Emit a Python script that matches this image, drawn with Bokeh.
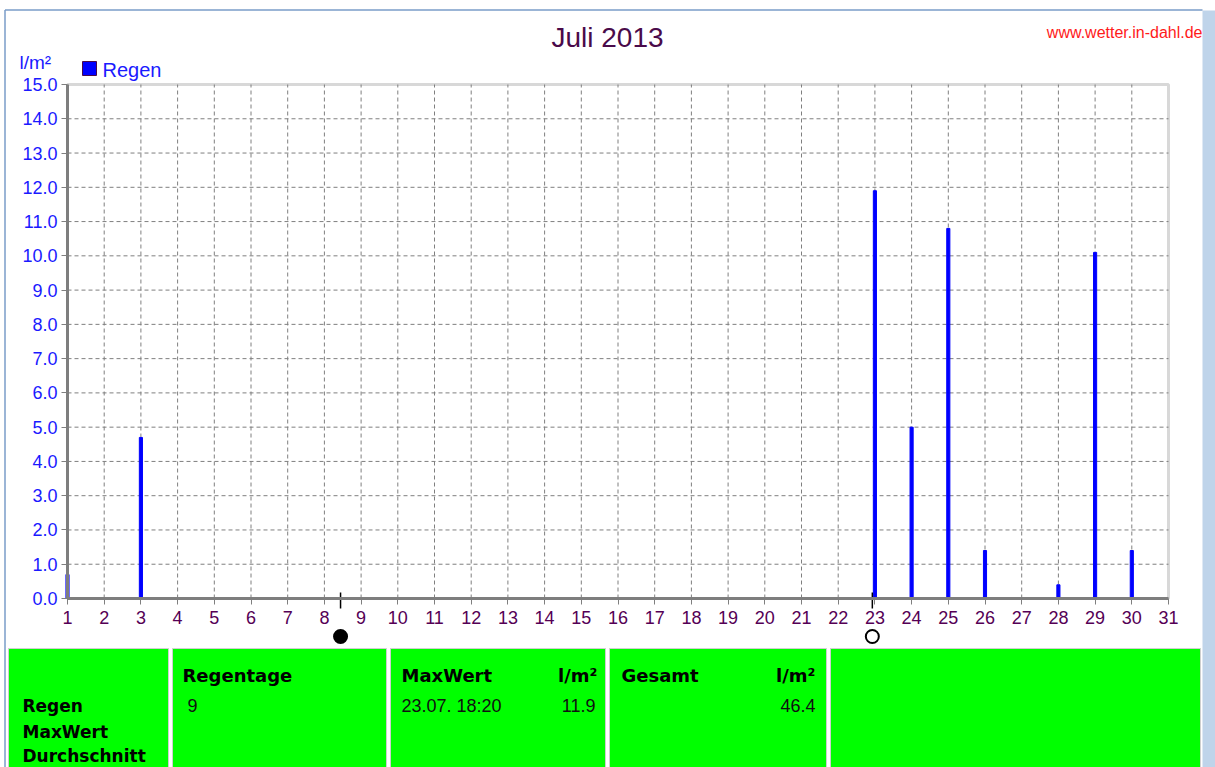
from bokeh.plotting import figure
from bokeh.models import (Range1d, FixedTicker, NumeralTickFormatter, LinearAxis,
                          BoxAnnotation)
from bokeh.embed import file_html
from bokeh.resources import INLINE
from bokeh.core.properties import value

# ---------------- data ----------------
title_text = "Juli 2013"
site_text = "www.wetter.in-dahl.de"
unit_text = "l/m²"
series_name = "Regen"
rain_days = [1, 3, 23, 24, 25, 26, 28, 29, 30]
rain_mm = [0.7, 4.7, 11.9, 5.0, 10.8, 1.4, 0.4, 10.1, 1.4]
x_ticks = list(range(1, 32))
y_ticks = [float(v) for v in range(0, 16)]
moon_days = [8.44, 22.93]
moon_filled = ["black", "white"]

stat_row_labels = ["Regen", "MaxWert", "Durchschnitt"]
stat_headers = ["Regentage", "MaxWert", "Gesamt"]
stat_regentage = "9"
stat_max_time = "23.07.  18:20"
stat_max_value = "11.9"
stat_total = "46.4"

# ---------------- layout constants (pixels) ----------------
W, H = 1215, 767
BOX_L, BOX_R, BOX_T, BOX_B = 67, 1168, 84, 598       # plot box on the canvas
X0, X1, Y0, Y1 = 1, 31, 0, 15                          # plot box in data units
ppx = (BOX_R - BOX_L) / (X1 - X0)
ppy = (BOX_B - BOX_T) / (Y1 - Y0)
xr = Range1d(X0 - BOX_L / ppx, X0 + (W - BOX_L) / ppx)
yr = Range1d(Y0 - (H - BOX_B) / ppy, Y0 + BOX_B / ppy)

FONT = "Liberation Sans"
GRAY = "#7f7f7f"

p = figure(width=W, height=H, output_backend="svg", toolbar_location=None,
           x_range=xr, y_range=yr, x_axis_location=None, y_axis_location=None,
           min_border=0, background_fill_color="white", border_fill_color="white")
p.outline_line_color = None
p.grid.visible = False
p.extra_x_ranges = {"px": Range1d(0, W)}
p.extra_y_ranges = {"py": Range1d(H, 0)}
PX = dict(x_range_name="px", y_range_name="py")

# window chrome
p.quad(left=[1202], right=[1215], top=[10], bottom=[H], fill_color="#bfd4ea",
       line_color=None, **PX)
p.segment(x0=[4.5, 4.5], y0=[9.5, 9.5], x1=[1202, 4.5], y1=[9.5, H],
          line_color="#7a9cc8", line_width=1.5, **PX)

# grid
p.segment(x0=x_ticks[1:-1], y0=[Y0] * (len(x_ticks) - 2), x1=x_ticks[1:-1], y1=[Y1] * (len(x_ticks) - 2),
          line_color=GRAY, line_dash="4 3", line_width=1)
p.segment(x0=[X0] * (len(y_ticks) - 2), y0=y_ticks[1:-1], x1=[X1] * (len(y_ticks) - 2), y1=y_ticks[1:-1],
          line_color=GRAY, line_dash="4 3", line_width=1)

# bars
p.vbar(x=rain_days, top=rain_mm, width=0.085, color="#0000ff")

# plot box
p.add_layout(BoxAnnotation(left=X0, right=X1, bottom=Y0, top=Y1, fill_alpha=0,
                           line_color=GRAY, line_width=3, level="overlay"))

# axes
xa = LinearAxis(fixed_location=Y0, bounds=(X0, X1), ticker=FixedTicker(ticks=x_ticks))
ya = LinearAxis(fixed_location=X0, bounds=(Y0, Y1), ticker=FixedTicker(ticks=y_ticks),
                formatter=NumeralTickFormatter(format="0.0"))
for ax in (xa, ya):
    ax.axis_line_color = GRAY
    ax.axis_line_width = 3
    ax.major_tick_line_color = GRAY
    ax.major_tick_line_width = 1
    ax.major_tick_in = 0
    ax.major_tick_out = 6
    ax.minor_tick_line_color = None
    ax.major_label_text_font = FONT
    ax.major_label_text_font_size = "18px"
xa.major_label_text_color = "#550055"
ya.major_label_text_color = "#1a1aff"
xa.major_label_standoff = 6
ya.major_label_standoff = 4
p.add_layout(xa, "below")
p.add_layout(ya, "left")

# moon phases
p.segment(x0=moon_days, y0=[Y0 - 10 / ppy] * 2, x1=moon_days, y1=[Y0 + 6 / ppy] * 2,
          line_color="black", line_width=1.5)
p.scatter(x=moon_days, y=[Y0 - 38 / ppy] * 2, size=13, marker="circle",
          fill_color=moon_filled, line_color="black", line_width=2)

# texts above the chart
p.text(x=[607], y=[37], text=[title_text], text_align="center", text_baseline="middle",
       text_font=value(FONT), text_font_size="28px", text_color="#4a0a4a", **PX)
p.text(x=[1202], y=[32], text=[site_text], text_align="right", text_baseline="middle",
       text_font=value(FONT), text_font_size="16px", text_color="#ff1a1a", **PX)
p.text(x=[19], y=[62], text=[unit_text], text_align="left", text_baseline="middle",
       text_font=value(FONT), text_font_size="19px", text_color="#1a1aff", **PX)
p.quad(left=[82], right=[96], top=[61], bottom=[75], fill_color="#0000ff",
       line_color="#4a0a4a", line_width=1, **PX)
p.text(x=[102], y=[69], text=[series_name], text_align="left", text_baseline="middle",
       text_font=value(FONT), text_font_size="20px", text_color="#1a1aff", **PX)

# ---------------- statistics panel ----------------
cell_left = [8, 172, 390, 609, 830]
cell_right = [168, 386, 605, 826, 1200]
p.quad(left=cell_left, right=cell_right, top=[648] * 5, bottom=[H + 20] * 5,
       fill_color="#00ff00", line_color="#cfcfcf", line_width=1, **PX)

bold = dict(text_font=value("DejaVu Sans"), text_font_style="bold", text_font_size="17px",
            text_color="black", text_baseline="middle", **PX)
bold_h = dict(bold, text_font_size="18px")
norm = dict(text_font=value(FONT), text_font_size="18px", text_color="#101010",
            text_baseline="middle", **PX)

p.text(x=[22, 22, 22], y=[705, 731, 755], text=stat_row_labels, text_align="left", **bold)
p.text(x=[182, 401, 621], y=[675, 675, 675], text=stat_headers, text_align="left", **bold_h)
p.text(x=[597, 815], y=[675, 675], text=[unit_text, unit_text], text_align="right", **bold_h)
p.text(x=[187, 401], y=[705, 705], text=[stat_regentage, stat_max_time], text_align="left", **norm)
p.text(x=[595, 815], y=[705, 705], text=[stat_max_value, stat_total], text_align="right", **norm)

open("out.html", "w").write(file_html(p, INLINE))
